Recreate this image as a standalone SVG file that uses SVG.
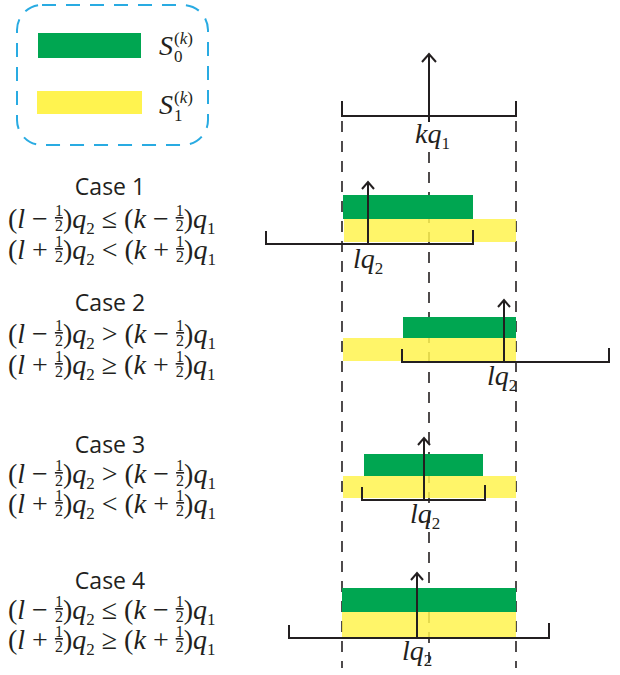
<svg xmlns="http://www.w3.org/2000/svg" width="620" height="675" viewBox="0 0 620 675">
<style>
.case{font-family:"Open Sans","Liberation Sans",sans-serif;font-size:23px;fill:#231f20;text-anchor:middle}
.m{font-family:"Liberation Serif","DejaVu Serif",serif;font-size:28px;fill:#231f20}
.i{font-style:italic}
.fn{font-size:16px;text-decoration:underline;font-style:normal}
.fd{font-size:16px;font-style:normal}
.sb{font-size:17px;font-style:normal}
.ss{font-size:17px}
.ln{stroke:#231f20;stroke-width:2;fill:none}
.dash{stroke:#231f20;stroke-width:1.6;stroke-dasharray:11 9;fill:none}
.g{fill:#00a651}
.y{fill:#fff34f;fill-opacity:0.85}
</style>
<rect width="620" height="675" fill="#ffffff"/>
<g id="legend">
<rect x="17" y="5" width="191" height="140" rx="25" fill="none" stroke="#29abe2" stroke-width="2" stroke-dasharray="14 10"/>
<rect class="g" x="38" y="33" width="103" height="25"/>
<rect x="37" y="91" width="105" height="23" fill="#fff34f"/>
<text class="m i" x="159" y="55">S</text><text class="m sb" x="174" y="62">0</text><text class="m ss" x="174" y="44">(<tspan class="i">k</tspan>)</text>
<text class="m i" x="159" y="114">S</text><text class="m sb" x="174" y="121">1</text><text class="m ss" x="174" y="103">(<tspan class="i">k</tspan>)</text>
</g>
<g id="guides">
<line class="dash" x1="342" y1="121" x2="342" y2="668"/>
<line class="dash" x1="516" y1="121" x2="516" y2="668"/>
<line class="dash" x1="429" y1="152" x2="429" y2="668"/>
</g>
<g id="reference">
<path class="ln" d="M342,101 V117 M342,116 H516 M516,101 V117"/>
<path class="ln" d="M429,122 V54 M422,62 L429,54 L436,62"/>
<text class="m" x="415" y="143"><tspan class="i">kq</tspan><tspan class="sb" dy="6">1</tspan></text>
</g>
<g id="case1">
<text class="case" x="110" y="195">Case 1</text>
<text class="m" x="8" y="228">(<tspan class="i">l</tspan> − <tspan class="fn" dy="-12">1</tspan><tspan class="fd" dx="-8" dy="15">2</tspan><tspan dy="-3">)</tspan><tspan class="i">q</tspan><tspan class="sb" dy="6">2</tspan><tspan dy="-6"> ≤ (</tspan><tspan class="i">k</tspan> − <tspan class="fn" dy="-12">1</tspan><tspan class="fd" dx="-8" dy="15">2</tspan><tspan dy="-3">)</tspan><tspan class="i">q</tspan><tspan class="sb" dy="6">1</tspan></text>
<text class="m" x="8" y="259">(<tspan class="i">l</tspan> + <tspan class="fn" dy="-12">1</tspan><tspan class="fd" dx="-8" dy="15">2</tspan><tspan dy="-3">)</tspan><tspan class="i">q</tspan><tspan class="sb" dy="6">2</tspan><tspan dy="-6"> &lt; (</tspan><tspan class="i">k</tspan> + <tspan class="fn" dy="-12">1</tspan><tspan class="fd" dx="-8" dy="15">2</tspan><tspan dy="-3">)</tspan><tspan class="i">q</tspan><tspan class="sb" dy="6">1</tspan></text>
<rect class="g" x="343" y="195" width="130" height="24"/>
<rect class="y" x="344" y="219" width="172" height="23"/>
<path class="ln" d="M266,231 V245 M266,244 H473 M473,230 V245"/>
<path class="ln" d="M368,244 V182 M362,189 L368,182 L374,189"/>
<text class="m" x="353" y="268"><tspan class="i">lq</tspan><tspan class="sb" dy="6">2</tspan></text>
</g>
<g id="case2">
<text class="case" x="110" y="311">Case 2</text>
<text class="m" x="8" y="343">(<tspan class="i">l</tspan> − <tspan class="fn" dy="-12">1</tspan><tspan class="fd" dx="-8" dy="15">2</tspan><tspan dy="-3">)</tspan><tspan class="i">q</tspan><tspan class="sb" dy="6">2</tspan><tspan dy="-6"> &gt; (</tspan><tspan class="i">k</tspan> − <tspan class="fn" dy="-12">1</tspan><tspan class="fd" dx="-8" dy="15">2</tspan><tspan dy="-3">)</tspan><tspan class="i">q</tspan><tspan class="sb" dy="6">1</tspan></text>
<text class="m" x="8" y="374">(<tspan class="i">l</tspan> + <tspan class="fn" dy="-12">1</tspan><tspan class="fd" dx="-8" dy="15">2</tspan><tspan dy="-3">)</tspan><tspan class="i">q</tspan><tspan class="sb" dy="6">2</tspan><tspan dy="-6"> ≥ (</tspan><tspan class="i">k</tspan> + <tspan class="fn" dy="-12">1</tspan><tspan class="fd" dx="-8" dy="15">2</tspan><tspan dy="-3">)</tspan><tspan class="i">q</tspan><tspan class="sb" dy="6">1</tspan></text>
<rect class="g" x="403" y="317" width="113" height="21"/>
<rect class="y" x="343" y="338" width="173" height="23"/>
<path class="ln" d="M402,349 V363 M402,362 H609 M609,348 V363"/>
<path class="ln" d="M504,362 V300 M498,307 L504,300 L510,307"/>
<text class="m" x="487" y="385"><tspan class="i">lq</tspan><tspan class="sb" dy="6">2</tspan></text>
</g>
<g id="case3">
<text class="case" x="110" y="453">Case 3</text>
<text class="m" x="8" y="483">(<tspan class="i">l</tspan> − <tspan class="fn" dy="-12">1</tspan><tspan class="fd" dx="-8" dy="15">2</tspan><tspan dy="-3">)</tspan><tspan class="i">q</tspan><tspan class="sb" dy="6">2</tspan><tspan dy="-6"> &gt; (</tspan><tspan class="i">k</tspan> − <tspan class="fn" dy="-12">1</tspan><tspan class="fd" dx="-8" dy="15">2</tspan><tspan dy="-3">)</tspan><tspan class="i">q</tspan><tspan class="sb" dy="6">1</tspan></text>
<text class="m" x="8" y="513">(<tspan class="i">l</tspan> + <tspan class="fn" dy="-12">1</tspan><tspan class="fd" dx="-8" dy="15">2</tspan><tspan dy="-3">)</tspan><tspan class="i">q</tspan><tspan class="sb" dy="6">2</tspan><tspan dy="-6"> &lt; (</tspan><tspan class="i">k</tspan> + <tspan class="fn" dy="-12">1</tspan><tspan class="fd" dx="-8" dy="15">2</tspan><tspan dy="-3">)</tspan><tspan class="i">q</tspan><tspan class="sb" dy="6">1</tspan></text>
<rect class="g" x="364" y="454" width="119" height="22"/>
<rect class="y" x="343" y="476" width="173" height="22"/>
<path class="ln" d="M362,487 V501 M362,500 H485 M485,485 V501"/>
<path class="ln" d="M424,500 V438 M418,445 L424,438 L430,445"/>
<text class="m" x="410" y="523"><tspan class="i">lq</tspan><tspan class="sb" dy="6">2</tspan></text>
</g>
<g id="case4">
<text class="case" x="110" y="589">Case 4</text>
<text class="m" x="8" y="619">(<tspan class="i">l</tspan> − <tspan class="fn" dy="-12">1</tspan><tspan class="fd" dx="-8" dy="15">2</tspan><tspan dy="-3">)</tspan><tspan class="i">q</tspan><tspan class="sb" dy="6">2</tspan><tspan dy="-6"> ≤ (</tspan><tspan class="i">k</tspan> − <tspan class="fn" dy="-12">1</tspan><tspan class="fd" dx="-8" dy="15">2</tspan><tspan dy="-3">)</tspan><tspan class="i">q</tspan><tspan class="sb" dy="6">1</tspan></text>
<text class="m" x="8" y="649">(<tspan class="i">l</tspan> + <tspan class="fn" dy="-12">1</tspan><tspan class="fd" dx="-8" dy="15">2</tspan><tspan dy="-3">)</tspan><tspan class="i">q</tspan><tspan class="sb" dy="6">2</tspan><tspan dy="-6"> ≥ (</tspan><tspan class="i">k</tspan> + <tspan class="fn" dy="-12">1</tspan><tspan class="fd" dx="-8" dy="15">2</tspan><tspan dy="-3">)</tspan><tspan class="i">q</tspan><tspan class="sb" dy="6">1</tspan></text>
<rect class="g" x="342" y="588" width="174" height="24"/>
<rect class="y" x="342" y="612" width="174" height="25"/>
<path class="ln" d="M289,625 V639 M289,638 H549 M549,623 V639"/>
<path class="ln" d="M417,638 V573 M411,580 L417,573 L423,580"/>
<text class="m" x="402" y="660"><tspan class="i">lq</tspan><tspan class="sb" dy="6">2</tspan></text>
</g>
</svg>
